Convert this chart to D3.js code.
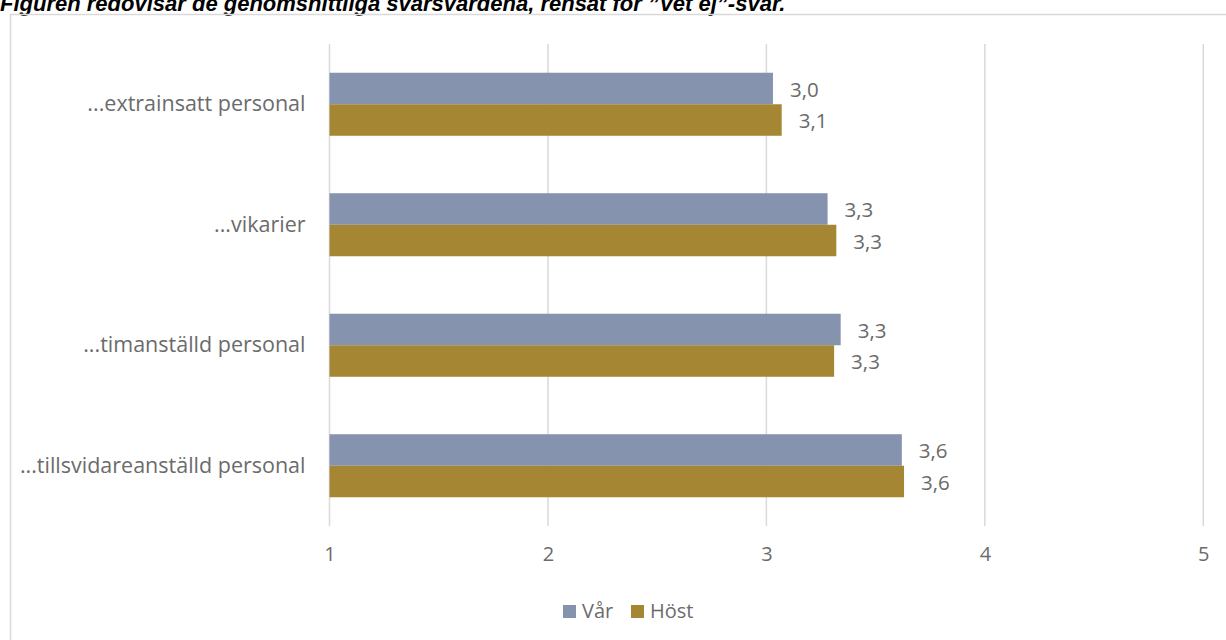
<!DOCTYPE html>
<html lang="sv">
<head>
<meta charset="utf-8">
<script src="https://cdn.jsdelivr.net/npm/d3@7"></script>
<style>
  html, body { margin: 0; padding: 0; background: #fff; }
  svg { display: block; }
</style>
</head>
<body>
<svg id="chart" width="1226" height="640"></svg>
<script>
// Genomsnittliga svarsvärden per personalkategori, vår och höst
const categories = [
  "...extrainsatt personal",
  "...vikarier",
  "...timanställd personal",
  "...tillsvidareanställd personal"
];
const seriesNames = ["Vår", "Höst"];
const varValues  = [3.03, 3.28, 3.34, 3.62];
const hostValues = [3.07, 3.32, 3.31, 3.63];
const xTicks = [1, 2, 3, 4, 5];
const titleText = "Figuren redovisar de genomsnittliga svarsvärdena, rensat för \u201dVet ej\u201d-svar.";

const colors = { "Vår": "#8593ae", "Höst": "#a58632" };
const textGray = "#6b6b6b";
const gridGray = "#d9d9d9";
const font = "'Open Sans', Lato, sans-serif";

const rows = categories.map((c, i) => ({
  category: c,
  values: [
    { series: "Vår", value: varValues[i] },
    { series: "Höst", value: hostValues[i] }
  ]
}));

const svg = d3.select("#chart");

// Title (sits partly above the top edge)
svg.append("text")
  .attr("x", 0)
  .attr("y", 11)
  .attr("font-family", "'Liberation Sans', Arial, sans-serif")
  .attr("font-size", 22)
  .attr("font-weight", "bold")
  .attr("font-style", "italic")
  .attr("fill", "#000")
  .text(titleText);

// Chart frame
svg.append("rect")
  .attr("x", 10.5)
  .attr("y", 14.5)
  .attr("width", 1300)
  .attr("height", 700)
  .attr("fill", "none")
  .attr("stroke", gridGray)
  .attr("stroke-width", 1.5);

const plot = { left: 329.5, right: 1203.3, top: 44, bottom: 526 };

const x = d3.scaleLinear()
  .domain([1, 5])
  .range([plot.left, plot.right]);

const y = d3.scaleBand()
  .domain(categories)
  .range([plot.top, plot.bottom])
  .paddingInner(0.477)
  .paddingOuter(0.2385);

const ySeries = d3.scaleBand()
  .domain(seriesNames)
  .range([0, y.bandwidth()]);

// Vertical gridlines
svg.append("g")
  .selectAll("line")
  .data(xTicks)
  .join("line")
  .attr("x1", d => x(d))
  .attr("x2", d => x(d))
  .attr("y1", plot.top)
  .attr("y2", plot.bottom)
  .attr("stroke", gridGray)
  .attr("stroke-width", 1.5);

// X axis tick labels
const xAxis = d3.axisBottom(x)
  .tickValues(xTicks)
  .tickSize(0)
  .tickPadding(0)
  .tickFormat(d3.format("d"));

const xAxisG = svg.append("g")
  .attr("transform", `translate(0,${plot.bottom + 21})`)
  .call(xAxis);
xAxisG.select(".domain").remove();
xAxisG.selectAll("text")
  .attr("font-family", font)
  .attr("font-size", 20)
  .attr("fill", textGray)
  .attr("dy", "0.71em");

// Category labels
const yAxis = d3.axisLeft(y).tickSize(0).tickPadding(24);
const yAxisG = svg.append("g")
  .attr("transform", `translate(${plot.left},0)`)
  .call(yAxis);
yAxisG.select(".domain").remove();
yAxisG.selectAll("text")
  .attr("font-family", font)
  .attr("font-size", 21.5)
  .attr("fill", textGray);

// Bars
const locale = d3.formatLocale({ decimal: ",", thousands: " ", grouping: [3], currency: ["", " kr"] });
const fmt = locale.format(".1f");

const groups = svg.append("g")
  .selectAll("g")
  .data(rows)
  .join("g")
  .attr("transform", d => `translate(0,${y(d.category)})`);

groups.selectAll("rect")
  .data(d => d.values)
  .join("rect")
  .attr("x", x(1))
  .attr("y", d => ySeries(d.series))
  .attr("width", d => x(d.value) - x(1))
  .attr("height", ySeries.bandwidth())
  .attr("fill", d => colors[d.series]);

groups.selectAll("text")
  .data(d => d.values)
  .join("text")
  .attr("x", d => x(d.value) + 17)
  .attr("y", d => ySeries(d.series) + ySeries.bandwidth() / 2 + 1)
  .attr("dy", "0.35em")
  .attr("font-family", font)
  .attr("font-size", 20.5)
  .attr("fill", textGray)
  .text(d => fmt(d.value));

// Legend
const legendItems = [
  { name: "Vår", x: 563 },
  { name: "Höst", x: 631 }
];
const legend = svg.append("g").attr("transform", "translate(0,611)");
const li = legend.selectAll("g")
  .data(legendItems)
  .join("g")
  .attr("transform", d => `translate(${d.x},0)`);
li.append("rect")
  .attr("x", 0)
  .attr("y", -6)
  .attr("width", 13)
  .attr("height", 13)
  .attr("fill", d => colors[d.name]);
li.append("text")
  .attr("x", 19)
  .attr("y", 0)
  .attr("dy", "0.35em")
  .attr("font-family", font)
  .attr("font-size", 20)
  .attr("fill", textGray)
  .text(d => d.name);
</script>
</body>
</html>
